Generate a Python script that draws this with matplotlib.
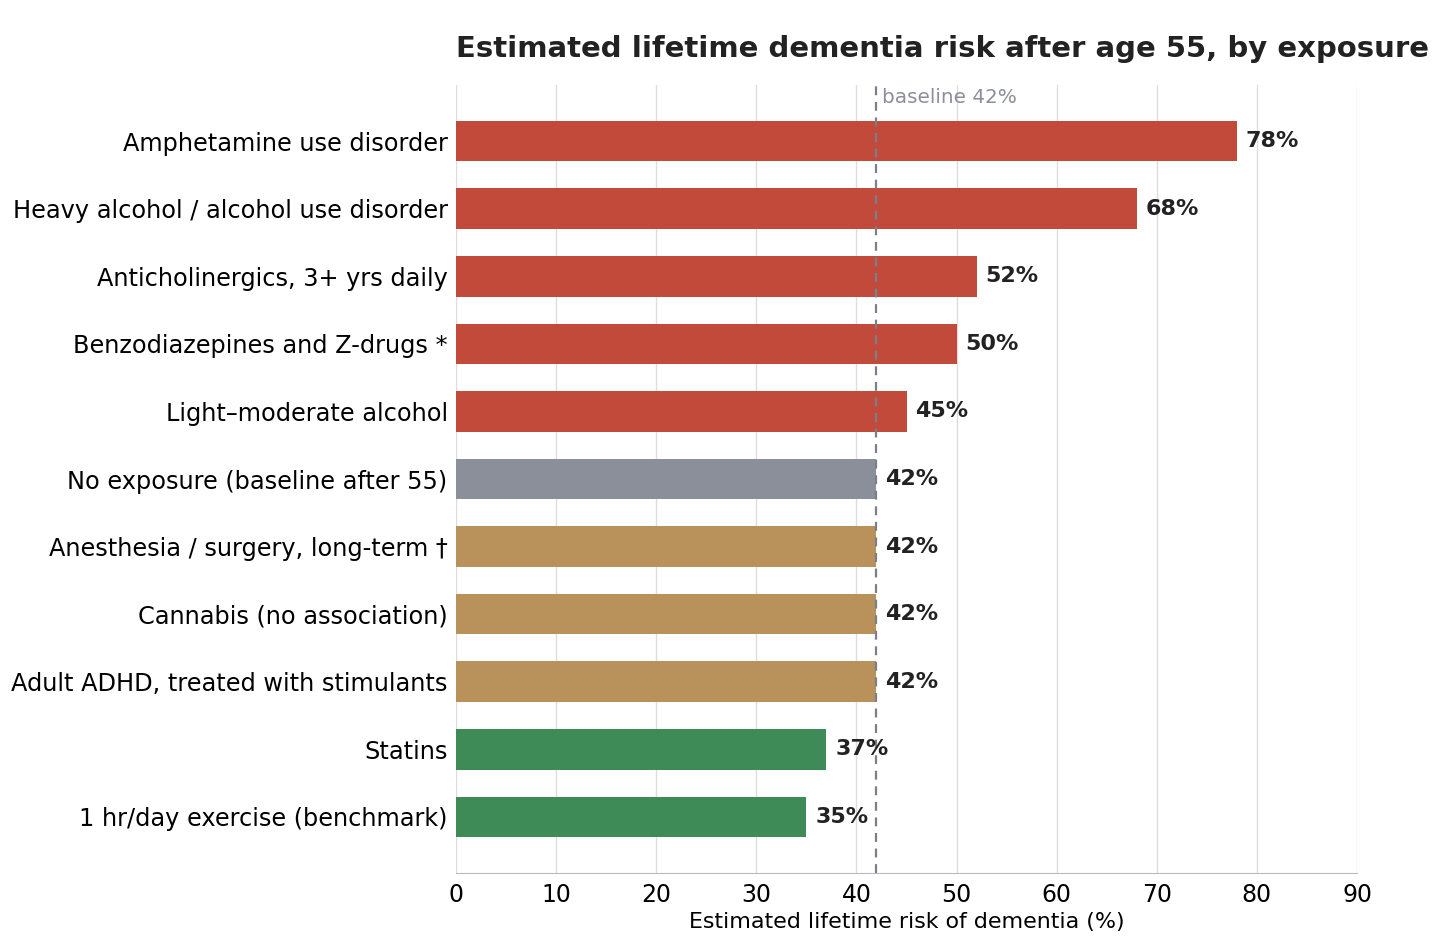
import matplotlib
matplotlib.use("Agg")
import matplotlib.pyplot as plt

categories = [
    "Amphetamine use disorder",
    "Heavy alcohol / alcohol use disorder",
    "Anticholinergics, 3+ yrs daily",
    "Benzodiazepines and Z-drugs *",
    "Light\u2013moderate alcohol",
    "No exposure (baseline after 55)",
    "Anesthesia / surgery, long-term \u2020",
    "Cannabis (no association)",
    "Adult ADHD, treated with stimulants",
    "Statins",
    "1 hr/day exercise (benchmark)",
]
values = [78, 68, 52, 50, 45, 42, 42, 42, 42, 37, 35]
groups = ["risk", "risk", "risk", "risk", "risk", "base", "neutral", "neutral", "neutral", "protect", "protect"]
group_colors = {"risk": "#C24A3A", "base": "#8B8F99", "neutral": "#B8925A", "protect": "#3E8B58"}
baseline = 42

fig = plt.figure(figsize=(14.56, 9.39), dpi=100)
ax = fig.add_axes([456/1456, 1-873/939, 901/1456, (873-85)/939])

y = list(range(len(categories)))
colors = [group_colors[g] for g in groups]
ax.barh(y, values, height=0.6, color=colors, zorder=2)
ax.invert_yaxis()
ax.set_yticks(y)
ax.set_yticklabels(categories, fontsize=17.3)
ax.set_xlim(0, 90)
ax.set_xticks(range(0, 91, 10))
ax.tick_params(axis="x", labelsize=17, length=0, pad=7)
ax.tick_params(axis="y", length=0, pad=6)
ax.grid(axis="x", color="#DDDDDD", linewidth=1, zorder=0)
ax.set_axisbelow(True)
for s in ["top", "right", "left"]:
    ax.spines[s].set_visible(False)
ax.spines["bottom"].set_color("#BBBBBB")

ax.axvline(baseline, color="#7A7F8C", linestyle=(0, (4, 3)), linewidth=1.6, zorder=3)
ax.text(baseline + 0.6, -0.65, f"baseline {baseline}%", color="#8B8F99", fontsize=14.4,
        va="center", ha="left")

for yi, v in zip(y, values):
    ax.annotate(f"{v}%", (v, yi), xytext=(6.5, 0), textcoords="offset points",
                va="center", ha="left", fontsize=16, fontweight="bold", color="#222222")

ax.set_xlabel("Estimated lifetime risk of dementia (%)", fontsize=15.9, labelpad=4)
ax.set_title("Estimated lifetime dementia risk after age 55, by exposure", loc="left",
             fontsize=21, fontweight="bold", color="#222222", pad=20)

fig.savefig("out.png", dpi=100)
